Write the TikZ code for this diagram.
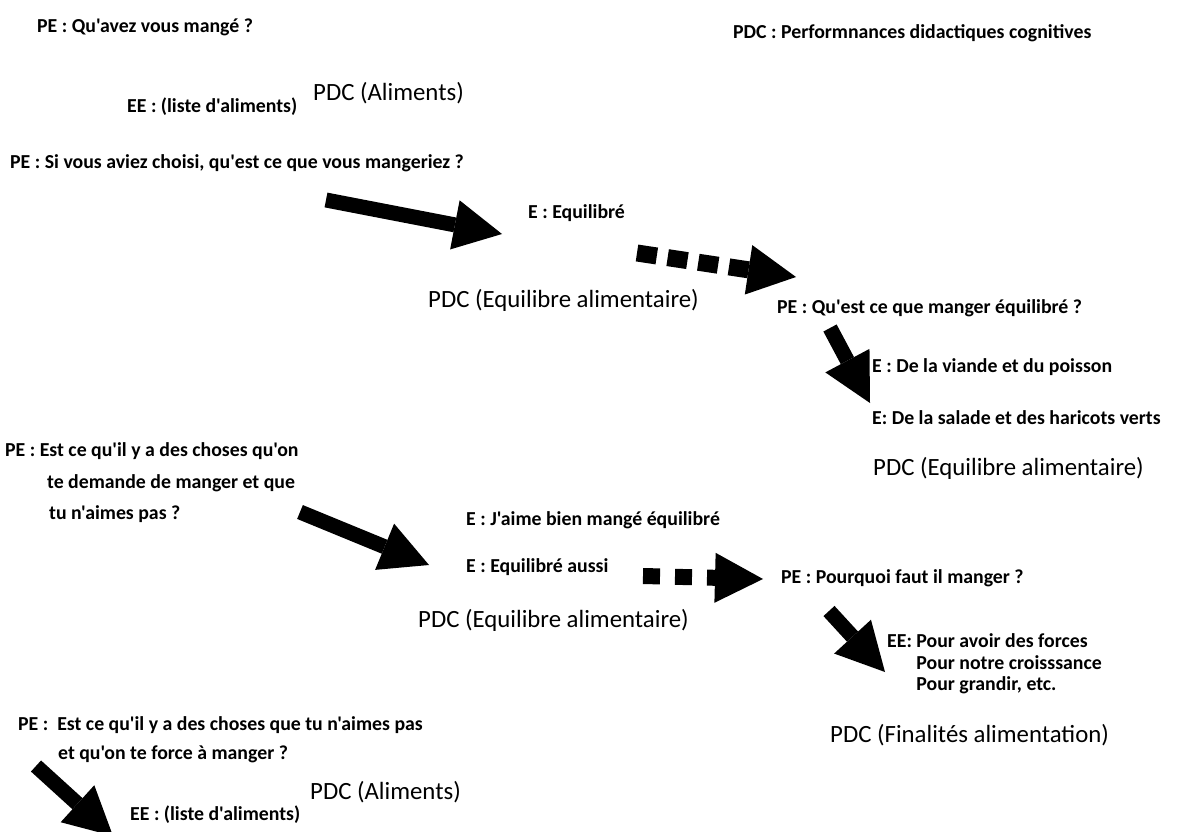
\documentclass[tikz,border=0pt]{standalone}
\usepackage{fontspec}
\setmainfont{Carlito}[Ligatures=TeXOff]
\usetikzlibrary{arrows.meta}
\begin{document}
\begin{tikzpicture}[x=1pt,y=-1pt,
  sm/.style={anchor=west, inner sep=0pt, align=left, font=\bfseries\fontsize{19.8}{23}\selectfont},
  pdc/.style={anchor=west, inner sep=0pt, font=\fontsize{24.8}{29}\selectfont},
  tipA/.style={-{Triangle[length=48pt,width=50pt,line width=0pt]}},
  bigarrow/.style={line width=15pt, tipA},
  dasharrow/.style={line width=17pt, dash pattern=on 20pt off 11pt, tipA}]
\useasboundingbox (0,0) rectangle (1181,832);
\clip (0,0) rectangle (1181,832);
\fill[white] (0,0) rectangle (1181,832);

% texts
\node[sm] (pe1) at (37,27) {PE : Qu'avez vous mangé ?};
\node[sm] (leg) at (733,33) {PDC : Performnances didactiques cognitives};
\node[pdc] (pdc1) at (313,93) {PDC (Aliments)};
\node[sm] (ee1) at (127,107) {EE : (liste d'aliments)};
\node[sm] (pe2) at (10,163) {PE : Si vous aviez choisi, qu'est ce que vous mangeriez ?};
\node[sm] (e1) at (528,213) {E : Equilibré};
\node[pdc] (pdc2) at (428,300) {PDC (Equilibre alimentaire)};
\node[sm] (pe3) at (777,308) {PE : Qu'est ce que manger équilibré ?};
\node[sm] (e2) at (872,367) {E : De la viande et du poisson};
\node[sm] (e3) at (872,418) {E: De la salade et des haricots verts};
\node[pdc] (pdc3) at (873,468) {PDC (Equilibre alimentaire)};
\node[sm, font=\bfseries\fontsize{19.8}{31.5}\selectfont] (pe4) at (5,483)
  {PE : Est ce qu'il y a des choses qu'on\\
   \hspace*{42pt}te demande de manger et que\\
   \hspace*{44pt}tu n'aimes pas ?};
\node[sm] (e4) at (466,520) {E : J'aime bien mangé équilibré};
\node[sm] (e5) at (466,567) {E : Equilibré aussi};
\node[pdc] (pdc4) at (418,620) {PDC (Equilibre alimentaire)};
\node[sm] (pe5) at (781,578) {PE : Pourquoi faut il manger ?};
\node[sm, font=\bfseries\fontsize{19.8}{21.5}\selectfont] (ee2) at (887,664)
  {EE: Pour avoir des forces\\
   \hphantom{EE:\ }Pour notre croisssance\\
   \hphantom{EE:\ }Pour grandir, etc.};
\node[pdc] (pdc5) at (830,735) {PDC (Finalités alimentation)};
\node[sm, font=\bfseries\fontsize{19.8}{29}\selectfont] (pe6) at (18,740)
  {PE :\ \ Est ce qu'il y a des choses que tu n'aimes pas\\
   \hspace*{40pt}et qu'on te force à manger ?};
\node[pdc] (pdc6) at (310,792) {PDC (Aliments)};
\node[sm] (ee3) at (130,815) {EE : (liste d'aliments)};

% arrow end points
\coordinate (a1s) at (326,200); \coordinate (a1e) at (502,234);
\coordinate (d1s) at (637,253); \coordinate (d1e) at (796,277);
\coordinate (a2s) at (830,328); \coordinate (a2e) at (870,403);
\coordinate (a3s) at (300,512); \coordinate (a3e) at (429,565);
\coordinate (d2s) at (643,576); \coordinate (d2e) at (763,579);
\coordinate (a4s) at (829,611); \coordinate (a4e) at (885,672);
\coordinate (a5s) at (36,766);  \coordinate (a5e) at (113,836);

\draw[bigarrow] (a1s) -- (a1e);
\draw[dasharrow] (d1s) -- (d1e);
\draw[bigarrow] (a2s) -- (a2e);
\draw[bigarrow] (a3s) -- (a3e);
\draw[dasharrow, line width=16pt, dash pattern=on 17pt off 15pt] (d2s) -- (d2e);
\draw[bigarrow] (a4s) -- (a4e);
\draw[bigarrow] (a5s) -- (a5e);
\end{tikzpicture}
\end{document}
